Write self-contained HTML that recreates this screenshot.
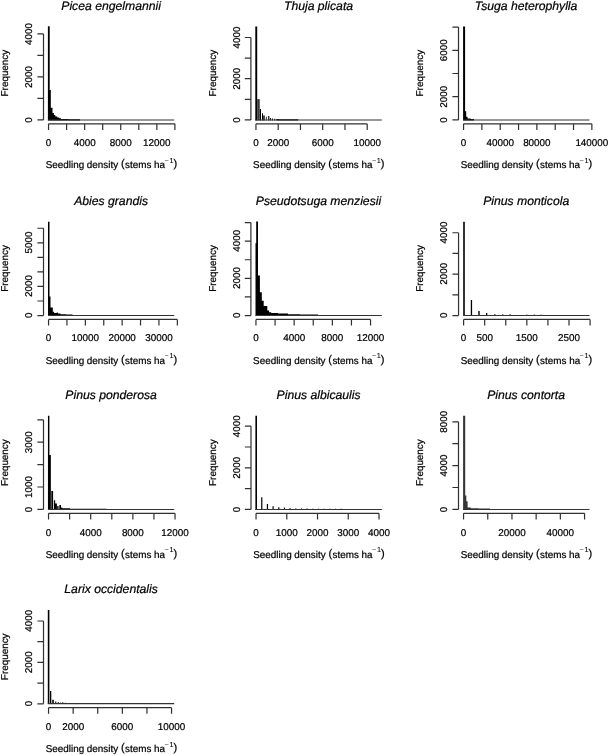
<!DOCTYPE html>
<html><head><meta charset="utf-8"><title>Seedling density histograms</title>
<style>html,body{margin:0;padding:0;background:#fff}body{width:609px;height:755px;overflow:hidden}svg{display:block;filter:grayscale(1)}text{font-family:"Liberation Sans",sans-serif;fill:#000;stroke:#000;stroke-width:0.22px;text-rendering:geometricPrecision}.l{font-size:9.9px}.t{font-size:12.2px;font-style:italic}.s{font-size:7.33px;stroke-width:0.08px}.a{stroke:#303030;stroke-width:1.2;fill:none}.b{fill:#000;stroke:none}.m{fill:#444;stroke:none}.z{stroke:#333;stroke-width:1.1;fill:none}</style></head><body>
<svg width="609" height="755" viewBox="0 0 609 755">
<rect width="609" height="755" fill="#fff"/>
<g>
<text class="t" x="111.1" y="9.5" text-anchor="middle">Picea engelmannii</text>
<path class="a" d="M43.5 119.9V33.9M43.5 119.9h-6.1M43.5 98.4h-6.1M43.5 76.9h-6.1M43.5 55.4h-6.1M43.5 33.9h-6.1M48.55 123.8H174.9M48.55 123.8v6.1M66.6 123.8v6.1M84.65 123.8v6.1M102.7 123.8v6.1M120.75 123.8v6.1M138.8 123.8v6.1M156.85 123.8v6.1M174.9 123.8v6.1"/>
<text class="l" x="48.55" y="146.1" text-anchor="middle">0</text>
<text class="l" x="84.65" y="146.1" text-anchor="middle">4000</text>
<text class="l" x="120.75" y="146.1" text-anchor="middle">8000</text>
<text class="l" x="156.85" y="146.1" text-anchor="middle">12000</text>
<text class="l" transform="translate(32.3 119.9) rotate(-90)" text-anchor="middle">0</text>
<text class="l" transform="translate(32.3 76.9) rotate(-90)" text-anchor="middle">2000</text>
<text class="l" transform="translate(32.3 33.9) rotate(-90)" text-anchor="middle">4000</text>
<text class="l" transform="translate(8.1 73.1) rotate(-90)" text-anchor="middle">Frequency</text>
<text class="l" x="45.7" y="168.3">Seedling density <tspan font-size="11.09" dy="-0.9">(</tspan><tspan dx="0.4" dy="0.9">stems ha</tspan><tspan class="s m" dx="-0.6" dy="-5.5">−</tspan><tspan class="s" dx="0.6">1</tspan><tspan font-size="11.09" dx="0" dy="4.6">)</tspan></text>
<path class="b" d="M47.9 120.4V26.3H49.7V120.4ZM49.7 120.4V89.9H50.8V120.4ZM50.8 120.4V107.8H52.5V120.4ZM52.5 120.4V113H53.9V120.4ZM53.9 120.4V115H55.3V120.4ZM55.3 120.4V116.5H57.3V120.4ZM57.3 120.4V117.6H59.3V120.4ZM59.3 120.4V118.2H61V120.4ZM61 120.4V118.9H68.5V120.4ZM68.5 120.4V119.25H80V120.4Z"/>
<path class="z" d="M47.9 120H174.2"/>
</g>
<g>
<text class="t" x="318.5" y="9.5" text-anchor="middle">Thuja plicata</text>
<path class="a" d="M250.9 119.9V37.5M250.9 119.9h-6.1M250.9 99.3h-6.1M250.9 78.7h-6.1M250.9 58.1h-6.1M250.9 37.5h-6.1M255.95 123.8H367.2M255.95 123.8v6.1M278.2 123.8v6.1M300.45 123.8v6.1M322.7 123.8v6.1M344.95 123.8v6.1M367.2 123.8v6.1"/>
<text class="l" x="255.95" y="146.1" text-anchor="middle">0</text>
<text class="l" x="278.2" y="146.1" text-anchor="middle">2000</text>
<text class="l" x="322.7" y="146.1" text-anchor="middle">6000</text>
<text class="l" x="367.2" y="146.1" text-anchor="middle">10000</text>
<text class="l" transform="translate(239.7 119.9) rotate(-90)" text-anchor="middle">0</text>
<text class="l" transform="translate(239.7 78.7) rotate(-90)" text-anchor="middle">2000</text>
<text class="l" transform="translate(239.7 37.5) rotate(-90)" text-anchor="middle">4000</text>
<text class="l" transform="translate(215.5 73.1) rotate(-90)" text-anchor="middle">Frequency</text>
<text class="l" x="253.1" y="168.3">Seedling density <tspan font-size="11.09" dy="-0.9">(</tspan><tspan dx="0.4" dy="0.9">stems ha</tspan><tspan class="s m" dx="-0.6" dy="-5.5">−</tspan><tspan class="s" dx="0.6">1</tspan><tspan font-size="11.09" dx="0" dy="4.6">)</tspan></text>
<path class="b" d="M255.3 120.4V26.6H257.2V120.4ZM259.75 120.4V108.9H261V120.4ZM262 120.4V113.2H263V120.4ZM263.25 120.4V115.5H264.7V120.4ZM265.9 120.4V116.8H266.7V120.4ZM268.2 120.4V116.1H269.3V120.4ZM269.9 120.4V118H270.9V120.4ZM271.9 120.4V118.6H272.9V120.4ZM274.2 120.4V118.8H275.2V120.4ZM276.3 120.4V118.9H278.8V120.4ZM278.8 120.4V119.2H298.3V120.4Z"/>
<path fill="#3a3a3a" d="M257.2 120.4V99.1H259.75V120.4Z"/>
<path class="z" d="M255.3 120H381.85"/>
</g>
<g>
<text class="t" x="526.1" y="9.5" text-anchor="middle">Tsuga heterophylla</text>
<path class="a" d="M458.5 119.9V27.1M458.5 119.9h-6.1M458.5 96.7h-6.1M458.5 73.5h-6.1M458.5 50.3h-6.1M458.5 27.1h-6.1M463.55 123.8H591.86M463.55 123.8v6.1M481.88 123.8v6.1M500.21 123.8v6.1M518.54 123.8v6.1M536.87 123.8v6.1M555.2 123.8v6.1M573.53 123.8v6.1M591.86 123.8v6.1"/>
<text class="l" x="463.55" y="146.1" text-anchor="middle">0</text>
<text class="l" x="500.21" y="146.1" text-anchor="middle">40000</text>
<text class="l" x="536.87" y="146.1" text-anchor="middle">80000</text>
<text class="l" x="591.86" y="146.1" text-anchor="middle">140000</text>
<text class="l" transform="translate(447.3 119.9) rotate(-90)" text-anchor="middle">0</text>
<text class="l" transform="translate(447.3 96.7) rotate(-90)" text-anchor="middle">2000</text>
<text class="l" transform="translate(447.3 50.3) rotate(-90)" text-anchor="middle">6000</text>
<text class="l" transform="translate(423.1 73.1) rotate(-90)" text-anchor="middle">Frequency</text>
<text class="l" x="460.7" y="168.3">Seedling density <tspan font-size="11.09" dy="-0.9">(</tspan><tspan dx="0.4" dy="0.9">stems ha</tspan><tspan class="s m" dx="-0.6" dy="-5.5">−</tspan><tspan class="s" dx="0.6">1</tspan><tspan font-size="11.09" dx="0" dy="4.6">)</tspan></text>
<path class="b" d="M463.1 120.4V26.4H465.1V120.4ZM465.1 120.4V111.2H466.2V120.4ZM466.2 120.4V116.7H467.5V120.4ZM467.5 120.4V118.5H470.7V120.4ZM470.7 120.4V119.1H474V120.4Z"/>
<path class="z" d="M463.1 120H589.5"/>
</g>
<g>
<text class="t" x="111.1" y="204.8" text-anchor="middle">Abies grandis</text>
<path class="a" d="M43.5 315.55V228.25M43.5 315.55h-6.1M43.5 301h-6.1M43.5 286.45h-6.1M43.5 271.9h-6.1M43.5 257.35h-6.1M43.5 242.8h-6.1M43.5 228.25h-6.1M48.55 319.45H177.35M48.55 319.45v6.1M66.95 319.45v6.1M85.35 319.45v6.1M103.75 319.45v6.1M122.15 319.45v6.1M140.55 319.45v6.1M158.95 319.45v6.1M177.35 319.45v6.1"/>
<text class="l" x="48.55" y="341.4" text-anchor="middle">0</text>
<text class="l" x="85.35" y="341.4" text-anchor="middle">10000</text>
<text class="l" x="122.15" y="341.4" text-anchor="middle">20000</text>
<text class="l" x="158.95" y="341.4" text-anchor="middle">30000</text>
<text class="l" transform="translate(32.3 315.2) rotate(-90)" text-anchor="middle">0</text>
<text class="l" transform="translate(32.3 286.1) rotate(-90)" text-anchor="middle">2000</text>
<text class="l" transform="translate(32.3 242.45) rotate(-90)" text-anchor="middle">5000</text>
<text class="l" transform="translate(8.1 268.4) rotate(-90)" text-anchor="middle">Frequency</text>
<text class="l" x="45.7" y="363.6">Seedling density <tspan font-size="11.09" dy="-0.9">(</tspan><tspan dx="0.4" dy="0.9">stems ha</tspan><tspan class="s m" dx="-0.6" dy="-5.5">−</tspan><tspan class="s" dx="0.6">1</tspan><tspan font-size="11.09" dx="0" dy="4.6">)</tspan></text>
<path class="b" d="M48 315.7V221.8H49.5V315.7ZM49.5 315.7V296.6H50.5V315.7ZM50.5 315.7V307.4H52.8V315.7ZM52.8 315.7V311.8H54.1V315.7ZM54.1 315.7V312.9H56.7V315.7ZM56.7 315.7V312.5H57.9V315.7ZM57.9 315.7V313.6H60.5V315.7ZM60.5 315.7V314.2H66V315.7ZM66 315.7V314.5H72.5V315.7Z"/>
<path class="z" d="M48 315.5H174.2"/>
</g>
<g>
<text class="t" x="318.5" y="204.8" text-anchor="middle">Pseudotsuga menziesii</text>
<path class="a" d="M250.9 315.55V222.55M250.9 315.55h-6.1M250.9 296.95h-6.1M250.9 278.35h-6.1M250.9 259.75h-6.1M250.9 241.15h-6.1M250.9 222.55h-6.1M255.95 319.45H370.55M255.95 319.45v6.1M275.05 319.45v6.1M294.15 319.45v6.1M313.25 319.45v6.1M332.35 319.45v6.1M351.45 319.45v6.1M370.55 319.45v6.1"/>
<text class="l" x="255.95" y="341.4" text-anchor="middle">0</text>
<text class="l" x="294.15" y="341.4" text-anchor="middle">4000</text>
<text class="l" x="332.35" y="341.4" text-anchor="middle">8000</text>
<text class="l" x="370.55" y="341.4" text-anchor="middle">12000</text>
<text class="l" transform="translate(239.7 315.2) rotate(-90)" text-anchor="middle">0</text>
<text class="l" transform="translate(239.7 278) rotate(-90)" text-anchor="middle">2000</text>
<text class="l" transform="translate(239.7 240.8) rotate(-90)" text-anchor="middle">4000</text>
<text class="l" transform="translate(215.5 268.4) rotate(-90)" text-anchor="middle">Frequency</text>
<text class="l" x="253.1" y="363.6">Seedling density <tspan font-size="11.09" dy="-0.9">(</tspan><tspan dx="0.4" dy="0.9">stems ha</tspan><tspan class="s m" dx="-0.6" dy="-5.5">−</tspan><tspan class="s" dx="0.6">1</tspan><tspan font-size="11.09" dx="0" dy="4.6">)</tspan></text>
<path class="b" d="M255.5 315.7V243.3H256.6V315.7ZM256.2 315.7V221.6H258V315.7ZM257.9 315.7V275.5H259.9V315.7ZM259.9 315.7V292.2H261.8V315.7ZM261.8 315.7V300.8H263.7V315.7ZM263.7 315.7V306H267.3V315.7ZM267.3 315.7V310.4H269.1V315.7ZM269.1 315.7V312.3H271.2V315.7ZM271.2 315.7V313.1H278V315.7ZM278 315.7V313.6H288V315.7ZM288 315.7V314.2H300V315.7ZM300 315.7V314.5H318V315.7Z"/>
<path class="z" d="M255.5 315.5H381.85"/>
</g>
<g>
<text class="t" x="526.15" y="204.8" text-anchor="middle">Pinus monticola</text>
<path class="a" d="M458.55 315.55V232.75M458.55 315.55h-6.1M458.55 294.85h-6.1M458.55 274.15h-6.1M458.55 253.45h-6.1M458.55 232.75h-6.1M463.6 319.45H590.08M463.6 319.45v6.1M484.68 319.45v6.1M505.76 319.45v6.1M526.84 319.45v6.1M547.92 319.45v6.1M569 319.45v6.1M590.08 319.45v6.1"/>
<text class="l" x="463.6" y="341.4" text-anchor="middle">0</text>
<text class="l" x="484.68" y="341.4" text-anchor="middle">500</text>
<text class="l" x="526.84" y="341.4" text-anchor="middle">1500</text>
<text class="l" x="569" y="341.4" text-anchor="middle">2500</text>
<text class="l" transform="translate(447.35 315.2) rotate(-90)" text-anchor="middle">0</text>
<text class="l" transform="translate(447.35 273.8) rotate(-90)" text-anchor="middle">2000</text>
<text class="l" transform="translate(447.35 232.4) rotate(-90)" text-anchor="middle">4000</text>
<text class="l" transform="translate(423.15 268.4) rotate(-90)" text-anchor="middle">Frequency</text>
<text class="l" x="460.75" y="363.6">Seedling density <tspan font-size="11.09" dy="-0.9">(</tspan><tspan dx="0.4" dy="0.9">stems ha</tspan><tspan class="s m" dx="-0.6" dy="-5.5">−</tspan><tspan class="s" dx="0.6">1</tspan><tspan font-size="11.09" dx="0" dy="4.6">)</tspan></text>
<path class="b" d="M463.2 315.7V221.8H464.8V315.7ZM470.8 315.7V300.1H472.1V315.7ZM478.3 315.7V311.1H479.7V315.7ZM486 315.7V313H487.3V315.7ZM494.4 315.7V313.9H495.4V315.7ZM502.3 315.7V314.2H503.3V315.7ZM509.6 315.7V314.2H510.6V315.7ZM526.4 315.7V314.5H527.3V315.7ZM533.8 315.7V314.5H534.7V315.7ZM540.6 315.7V314.5H541.5V315.7Z"/>
<path class="z" d="M463.2 315.5H589.5"/>
</g>
<g>
<text class="t" x="111.1" y="399" text-anchor="middle">Pinus ponderosa</text>
<path class="a" d="M43.5 509.4V419.8M43.5 509.4h-6.1M43.5 487h-6.1M43.5 464.6h-6.1M43.5 442.2h-6.1M43.5 419.8h-6.1M48.55 513.3H175.03M48.55 513.3v6.1M69.63 513.3v6.1M90.71 513.3v6.1M111.79 513.3v6.1M132.87 513.3v6.1M153.95 513.3v6.1M175.03 513.3v6.1"/>
<text class="l" x="48.55" y="535.6" text-anchor="middle">0</text>
<text class="l" x="90.71" y="535.6" text-anchor="middle">4000</text>
<text class="l" x="132.87" y="535.6" text-anchor="middle">8000</text>
<text class="l" x="175.03" y="535.6" text-anchor="middle">12000</text>
<text class="l" transform="translate(32.3 509.4) rotate(-90)" text-anchor="middle">0</text>
<text class="l" transform="translate(32.3 487) rotate(-90)" text-anchor="middle">1000</text>
<text class="l" transform="translate(32.3 442.2) rotate(-90)" text-anchor="middle">3000</text>
<text class="l" transform="translate(8.1 462.6) rotate(-90)" text-anchor="middle">Frequency</text>
<text class="l" x="45.7" y="557.8">Seedling density <tspan font-size="11.09" dy="-0.9">(</tspan><tspan dx="0.4" dy="0.9">stems ha</tspan><tspan class="s m" dx="-0.6" dy="-5.5">−</tspan><tspan class="s" dx="0.6">1</tspan><tspan font-size="11.09" dx="0" dy="4.6">)</tspan></text>
<path class="b" d="M47.95 509.9V415.7H49.4V509.9ZM49.4 509.9V455.1H50.85V509.9ZM51.3 509.9V491.1H53.1V509.9ZM53.9 509.9V500.2H55.2V509.9ZM55.2 509.9V503.5H56.9V509.9ZM59.3 509.9V505.1H61V509.9ZM61 509.9V507.4H62.3V509.9ZM62.3 509.9V508.3H70V509.9ZM70 509.9V508.75H106.5V509.9Z"/>
<path fill="#333" d="M57 509.9V506.1H58.7V509.9Z"/>
<path class="z" d="M47.95 509.5H174.2"/>
</g>
<g>
<text class="t" x="318.6" y="399" text-anchor="middle">Pinus albicaulis</text>
<path class="a" d="M251 509.4V426.2M251 509.4h-6.1M251 488.6h-6.1M251 467.8h-6.1M251 447h-6.1M251 426.2h-6.1M256.05 513.3H379.01M256.05 513.3v6.1M286.79 513.3v6.1M317.53 513.3v6.1M348.27 513.3v6.1M379.01 513.3v6.1"/>
<text class="l" x="256.05" y="535.6" text-anchor="middle">0</text>
<text class="l" x="286.79" y="535.6" text-anchor="middle">1000</text>
<text class="l" x="317.53" y="535.6" text-anchor="middle">2000</text>
<text class="l" x="348.27" y="535.6" text-anchor="middle">3000</text>
<text class="l" x="379.01" y="535.6" text-anchor="middle">4000</text>
<text class="l" transform="translate(239.8 509.4) rotate(-90)" text-anchor="middle">0</text>
<text class="l" transform="translate(239.8 467.8) rotate(-90)" text-anchor="middle">2000</text>
<text class="l" transform="translate(239.8 426.2) rotate(-90)" text-anchor="middle">4000</text>
<text class="l" transform="translate(215.6 462.6) rotate(-90)" text-anchor="middle">Frequency</text>
<text class="l" x="253.2" y="557.8">Seedling density <tspan font-size="11.09" dy="-0.9">(</tspan><tspan dx="0.4" dy="0.9">stems ha</tspan><tspan class="s m" dx="-0.6" dy="-5.5">−</tspan><tspan class="s" dx="0.6">1</tspan><tspan font-size="11.09" dx="0" dy="4.6">)</tspan></text>
<path class="b" d="M255.4 509.9V415.8H257V509.9ZM261.17 509.9V497.3H262.37V509.9ZM266.84 509.9V504H268.04V509.9ZM272.51 509.9V506.2H273.71V509.9ZM278.18 509.9V507.2H279.38V509.9ZM283.85 509.9V507.6H285.05V509.9ZM289.52 509.9V508.2H290.72V509.9ZM295.19 509.9V508.4H296.39V509.9ZM300.86 509.9V508.6H302.06V509.9ZM306.53 509.9V508.6H307.73V509.9ZM312.2 509.9V508.7H313.4V509.9ZM317.87 509.9V508.7H319.07V509.9ZM323.54 509.9V508.7H324.74V509.9ZM329.21 509.9V508.7H330.41V509.9ZM334.88 509.9V508.7H336.08V509.9ZM340.55 509.9V508.7H341.75V509.9Z"/>
<path class="z" d="M255.4 509.5H381.85"/>
</g>
<g>
<text class="t" x="526.1" y="399" text-anchor="middle">Pinus contorta</text>
<path class="a" d="M458.5 509.4V421.8M458.5 509.4h-6.1M458.5 487.5h-6.1M458.5 465.6h-6.1M458.5 443.7h-6.1M458.5 421.8h-6.1M463.55 513.3H584.55M463.55 513.3v6.1M487.75 513.3v6.1M511.95 513.3v6.1M536.15 513.3v6.1M560.35 513.3v6.1M584.55 513.3v6.1"/>
<text class="l" x="463.55" y="535.6" text-anchor="middle">0</text>
<text class="l" x="511.95" y="535.6" text-anchor="middle">20000</text>
<text class="l" x="560.35" y="535.6" text-anchor="middle">40000</text>
<text class="l" transform="translate(447.3 509.4) rotate(-90)" text-anchor="middle">0</text>
<text class="l" transform="translate(447.3 465.6) rotate(-90)" text-anchor="middle">4000</text>
<text class="l" transform="translate(447.3 421.8) rotate(-90)" text-anchor="middle">8000</text>
<text class="l" transform="translate(423.1 462.6) rotate(-90)" text-anchor="middle">Frequency</text>
<text class="l" x="460.7" y="557.8">Seedling density <tspan font-size="11.09" dy="-0.9">(</tspan><tspan dx="0.4" dy="0.9">stems ha</tspan><tspan class="s m" dx="-0.6" dy="-5.5">−</tspan><tspan class="s" dx="0.6">1</tspan><tspan font-size="11.09" dx="0" dy="4.6">)</tspan></text>
<path fill="#353535" d="M463.1 509.9V415.8H465.2V509.9ZM465.2 509.9V495.6H466.3V509.9ZM466.3 509.9V501.2H467.6V509.9ZM467.6 509.9V507.4H470.8V509.9ZM470.8 509.9V508.2H478.7V509.9ZM478.7 509.9V508.6H490V509.9ZM490 509.9V508.9H506V509.9Z"/>
<path class="z" d="M463.1 509.5H589.5"/>
</g>
<g>
<text class="t" x="111.1" y="593.2" text-anchor="middle">Larix occidentalis</text>
<path class="a" d="M43.5 703.8V621M43.5 703.8h-6.1M43.5 683.1h-6.1M43.5 662.4h-6.1M43.5 641.7h-6.1M43.5 621h-6.1M48.55 707.7H171.55M48.55 707.7v6.1M73.15 707.7v6.1M97.75 707.7v6.1M122.35 707.7v6.1M146.95 707.7v6.1M171.55 707.7v6.1"/>
<text class="l" x="48.55" y="729.8" text-anchor="middle">0</text>
<text class="l" x="73.15" y="729.8" text-anchor="middle">2000</text>
<text class="l" x="122.35" y="729.8" text-anchor="middle">6000</text>
<text class="l" x="171.55" y="729.8" text-anchor="middle">10000</text>
<text class="l" transform="translate(32.3 703.6) rotate(-90)" text-anchor="middle">0</text>
<text class="l" transform="translate(32.3 662.2) rotate(-90)" text-anchor="middle">2000</text>
<text class="l" transform="translate(32.3 620.8) rotate(-90)" text-anchor="middle">4000</text>
<text class="l" transform="translate(8.1 656.8) rotate(-90)" text-anchor="middle">Frequency</text>
<text class="l" x="45.7" y="752">Seedling density <tspan font-size="11.09" dy="-0.9">(</tspan><tspan dx="0.4" dy="0.9">stems ha</tspan><tspan class="s m" dx="-0.6" dy="-5.5">−</tspan><tspan class="s" dx="0.6">1</tspan><tspan font-size="11.09" dx="0" dy="4.6">)</tspan></text>
<path class="b" d="M47.8 704.1V610H49.4V704.1ZM50 704.1V691.1H51.3V704.1ZM52.2 704.1V699.8H53.8V704.1ZM55.2 704.1V701.4H56.3V704.1ZM57.8 704.1V702.1H58.7V704.1ZM60.3 704.1V702.4H61.1V704.1ZM62.3 704.1V702.3H63.3V704.1ZM65.3 704.1V702.8H66.1V704.1ZM67.8 704.1V702.9H68.6V704.1ZM70.3 704.1V702.9H71.1V704.1ZM72.8 704.1V702.9H73.6V704.1ZM75.3 704.1V702.9H76.1V704.1Z"/>
<path class="z" d="M47.8 703.6H174.2"/>
</g>
</svg></body></html>
